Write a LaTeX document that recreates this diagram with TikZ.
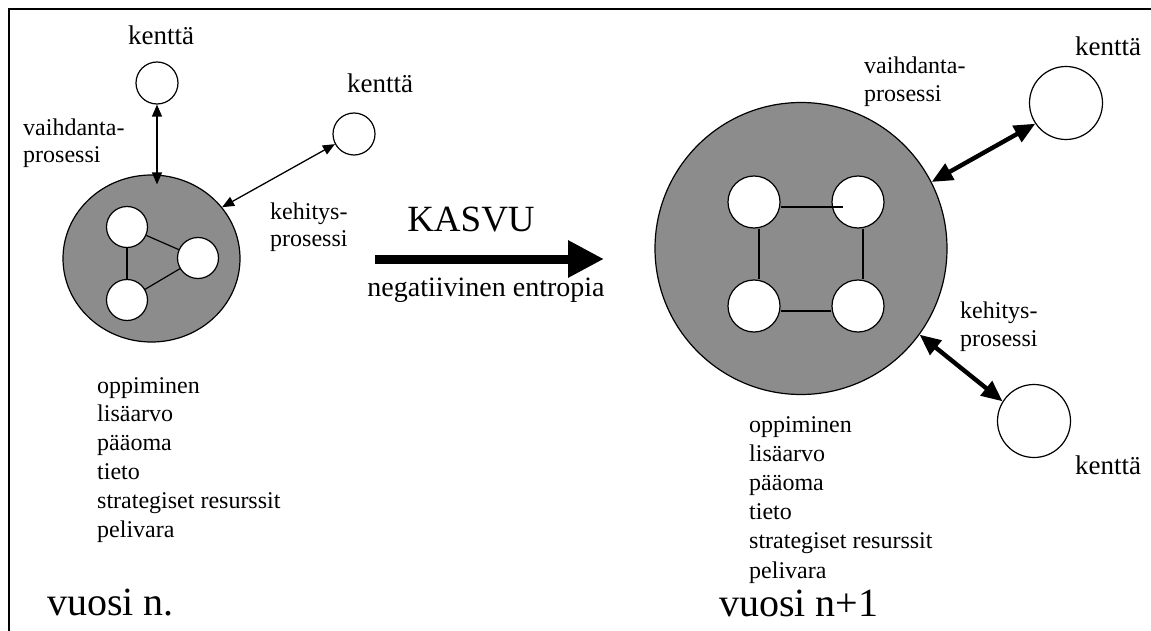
\documentclass[tikz,border=0pt]{standalone}
\usepackage{fontspec}
\setmainfont{Liberation Serif}
\usetikzlibrary{arrows.meta,shapes.geometric}

\definecolor{corefill}{RGB}{140,140,140}

\begin{document}
\begin{tikzpicture}[x=1pt,y=-1pt,
  lbl/.style={inner sep=0pt,anchor=base west,font=\fontsize{24}{29}\selectfont},
  fieldlbl/.style={inner sep=0pt,anchor=base west,font=\fontsize{27}{32}\selectfont},
  yearlbl/.style={inner sep=0pt,anchor=base west,font=\fontsize{40}{48}\selectfont},
  field/.style={circle,draw,line width=1.2pt,fill=white,inner sep=0pt,minimum size=#1},
  unit/.style={circle,draw,line width=1.2pt,fill=white,inner sep=0pt,minimum size=#1},
  core/.style={draw,line width=1.2pt,fill=corefill,inner sep=0pt},
  link/.style={line width=1.2pt},
  thinarrow/.style={line width=1.3pt,{Triangle[length=12pt,width=10pt]}-{Triangle[length=12pt,width=10pt]}},
  thickarrow/.style={line width=4.4pt,{Triangle[length=21pt,width=18pt]}-{Triangle[length=21pt,width=18pt]}},
]
\useasboundingbox (0,0) rectangle (1151,631);

% frame
\draw[line width=2pt] (1151,9) -- (9,9) -- (9,631);

% ---------- year n ----------
\node[core,ellipse,minimum width=177pt,minimum height=167pt] (big1) at (151.5,258.5) {};
\node[unit=41pt] (a1) at (127,227) {};
\node[unit=41pt] (b1) at (198,258) {};
\node[unit=41pt] (c1) at (127,300) {};
\draw[link] (a1) -- (b1);
\draw[link] (a1) -- (c1);
\draw[link] (c1) -- (b1);

\node[field=42pt] (k1) at (157,83) {};
\node[field=42pt] (k2) at (354,134) {};
\node[fieldlbl] (k1l) at (128,45) {kenttä};
\node[fieldlbl] (k2l) at (347,93) {kenttä};

\coordinate (k1in) at (k1.south |- big1.north);
\draw[thinarrow,shorten >=-10pt] (k1.south) -- (k1in);
\draw[thinarrow] (big1.36) -- (k2.208);

\node[lbl] (v1a) at (23,135.5) {vaihdanta-};
\node[lbl] (v1b) at (23,163) {prosessi};
\node[lbl] (e1a) at (270,219) {kehitys-};
\node[lbl] (e1b) at (270,247) {prosessi};

\foreach \t [count=\i] in {oppiminen,lisäarvo,pääoma,tieto,strategiset resurssit,pelivara}
  \node[lbl] (r1\i) at (97,393+28.8*\i-28.8) {\t};

\node[yearlbl] (y1) at (47,615) {vuosi n.};

% ---------- growth ----------
\coordinate (growS) at (375,259);
\coordinate (growE) at (604,259);
\draw[line width=9pt,-{Triangle[length=36pt,width=35pt]}] (growS) -- (growE);
\node[inner sep=0pt,anchor=base,font=\fontsize{37}{44}\selectfont] (kasvu) at (471,232) {KASVU};
\node[inner sep=0pt,anchor=base,font=\fontsize{28}{33}\selectfont] (negent) at (486,296) {negatiivinen entropia};

% ---------- year n+1 ----------
\node[core,circle,minimum size=292pt] (big2) at (801,248.5) {};
\node[unit=52pt] (tl) at (754,202) {};
\node[unit=52pt] (tr) at (858,202) {};
\node[unit=52pt] (bl) at (754,306) {};
\node[unit=52pt] (br) at (858,306) {};
\draw[link] ([yshift=-5pt]tl.east) -- ([xshift=-15pt,yshift=-5pt]tr.center);
\draw[link] ([xshift=5pt]tl.south) -- ([xshift=5pt]bl.north);
\draw[link] ([xshift=5pt]tr.south) -- ([xshift=5pt]br.north);
\draw[link] ([yshift=-5pt]bl.east) -- ([yshift=-5pt]br.west);

\node[field=73pt] (k3) at (1066,103) {};
\node[field=73pt] (k4) at (1034,421) {};
\node[fieldlbl] (k3l) at (1075,56) {kenttä};
\node[fieldlbl] (k4l) at (1075,474) {kenttä};

\draw[thickarrow] (big2.27) -- (k3.214);
\draw[thickarrow] (big2.-36) -- (k4.148);

\node[lbl] (v2a) at (864,74) {vaihdanta-};
\node[lbl] (v2b) at (864,101.5) {prosessi};
\node[lbl] (e2a) at (960,318) {kehitys-};
\node[lbl] (e2b) at (960,346) {prosessi};

\foreach \t [count=\i] in {oppiminen,lisäarvo,pääoma,tieto,strategiset resurssit,pelivara}
  \node[lbl] (r2\i) at (749,432+29.2*\i-29.2) {\t};

\node[yearlbl] (y2) at (719,616) {vuosi n+1};
\end{tikzpicture}
\end{document}
